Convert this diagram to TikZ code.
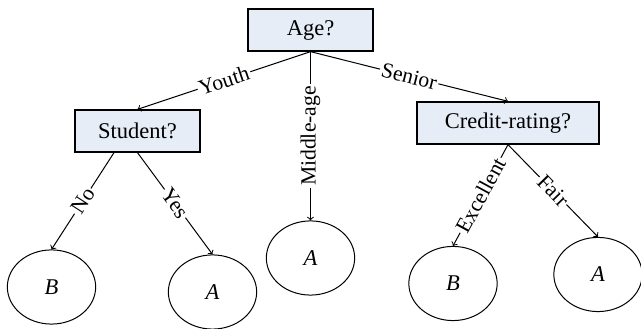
\documentclass[tikz,border=0pt]{standalone}
\usepackage{fontspec}
\setmainfont{Liberation Serif}
\usepackage{tikz}
\usetikzlibrary{calc, shapes.geometric, arrows}
\definecolor{boxfill}{RGB}{230,237,247}
\tikzstyle{test}=[draw, line width=0.8pt, fill=boxfill, shape=rectangle, minimum height=25.2pt, font=\fontsize{13.5}{15}\selectfont]
\tikzstyle{leaf}=[draw, line width=0.6pt, shape=ellipse, inner sep=0pt, minimum width=53pt, minimum height=44.5pt, font=\fontsize{13.5}{15}\selectfont\itshape]
\tikzstyle{lbl}=[midway, sloped, fill=white, inner sep=1pt, font=\fontsize{13}{15}\selectfont]
\tikzset{>=to}

\begin{document}
\begin{tikzpicture}[x=0.6pt, y=-0.6pt]
\useasboundingbox (0,0) rectangle (641,329);
\node[test, minimum width=75pt] (age) at (310.5,30) {Age?};
\node[test, minimum width=75pt] (student) at (137.5,131) {Student?};
\node[test, minimum width=109.2pt] (credit) at (508,123) {Credit-rating?};

\node[leaf] (b1) at (51.5,287) {B};
\node[leaf] (a1) at (212.5,292) {A};
\node[leaf] (a2) at (310.5,258) {A};
\node[leaf] (b2) at (453,283.5) {B};
\node[leaf] (a3) at (598,274.5) {A};

\draw[->, line width=0.6pt] (age.south) -- node[lbl] {Youth} (student.north);
\draw[->, line width=0.6pt] (age.south) -- node[midway, rotate=90, fill=white, inner sep=1pt, font=\fontsize{13}{15}\selectfont] {Middle-age} (a2.north);
\draw[->, line width=0.6pt] (age.south) -- node[lbl] {Senior} (credit.north);

\draw[->, line width=0.6pt] ($(student.south)+(-23.5,0)$) -- node[lbl] {No} (b1.north);
\draw[->, line width=0.6pt] (student.south) -- node[lbl] {Yes} (a1.north);
\draw[->, line width=0.6pt] (credit.south) -- node[lbl] {Excellent} (b2.north);
\draw[->, line width=0.6pt] (credit.south) -- node[lbl] {Fair} (a3.north);
\end{tikzpicture}
\end{document}
